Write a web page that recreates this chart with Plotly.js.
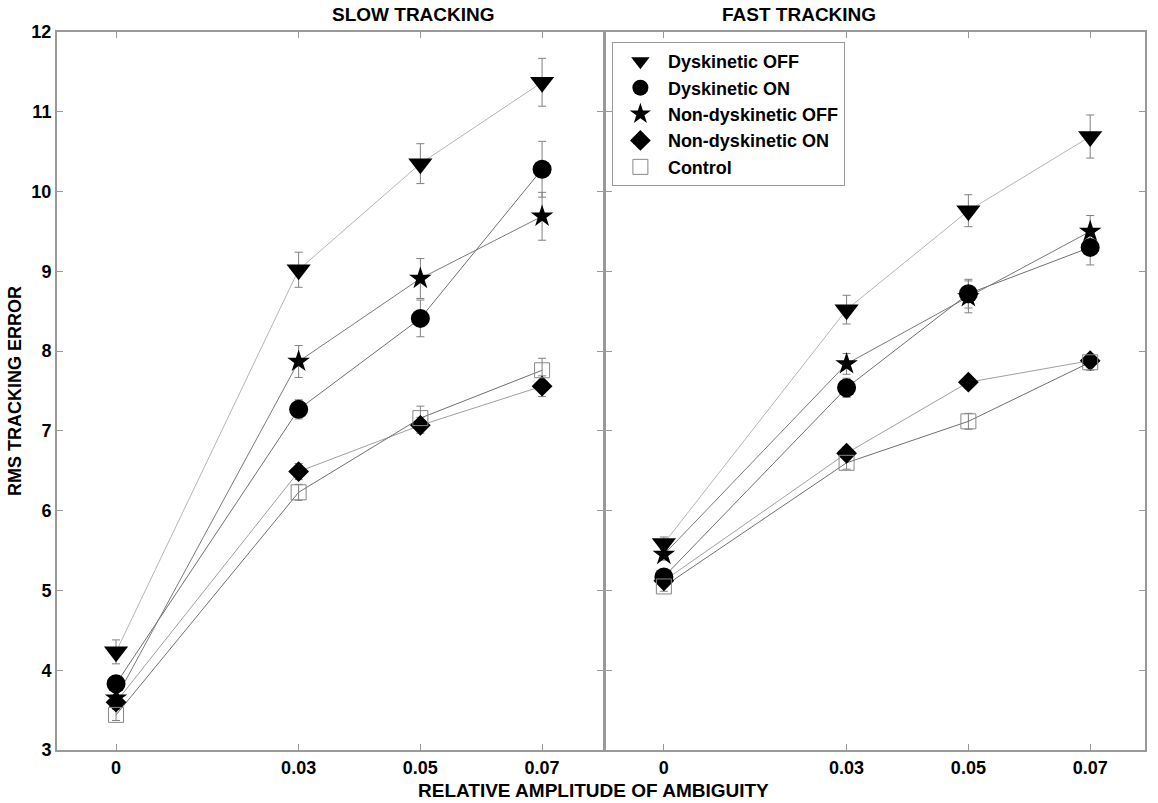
<!DOCTYPE html>
<html>
<head>
<meta charset="utf-8">
<script src="https://cdn.plot.ly/plotly-3.0.1.min.js"></script>
<style>
  body { margin: 0; background: white; }
  #chart { width: 1158px; height: 803px; }
</style>
</head>
<body>
<div id="chart"></div>
<script>
var ambiguity = [0, 0.03, 0.05, 0.07];
var groups = ['Dyskinetic OFF', 'Dyskinetic ON', 'Non-dyskinetic OFF', 'Non-dyskinetic ON', 'Control'];

// slow tracking: mean and error
var slowDyskOff = [4.23, 9.02, 10.35, 11.37];
var slowDyskOffErr = [0.15, 0.22, 0.25, 0.3];
var slowDyskOn = [3.83, 7.27, 8.41, 10.28];
var slowDyskOnErr = [0.1, 0.12, 0.23, 0.35];
var slowNonOff = [3.65, 7.87, 8.91, 9.69];
var slowNonOffErr = [0.08, 0.2, 0.25, 0.3];
var slowNonOn = [3.6, 6.49, 7.07, 7.56];
var slowNonOnErr = [0.08, 0.1, 0.1, 0.13];
var slowControl = [3.44, 6.23, 7.16, 7.76];
var slowControlErr = [0.07, 0.1, 0.15, 0.15];

// fast tracking
var fastDyskOff = [5.59, 8.52, 9.76, 10.69];
var fastDyskOffErr = [0.08, 0.18, 0.2, 0.27];
var fastDyskOn = [5.17, 7.54, 8.72, 9.3];
var fastDyskOnErr = [0.07, 0.12, 0.18, 0.22];
var fastNonOff = [5.45, 7.84, 8.68, 9.5];
var fastNonOffErr = [0.07, 0.13, 0.2, 0.2];
var fastNonOn = [5.12, 6.72, 7.61, 7.88];
var fastNonOnErr = [0.06, 0.08, 0.07, 0.08];
var fastControl = [5.05, 6.6, 7.12, 7.86];
var fastControlErr = [0.06, 0.08, 0.1, 0.1];

var slow = [slowDyskOff, slowDyskOn, slowNonOff, slowNonOn, slowControl];
var slowErr = [slowDyskOffErr, slowDyskOnErr, slowNonOffErr, slowNonOnErr, slowControlErr];
var fast = [fastDyskOff, fastDyskOn, fastNonOff, fastNonOn, fastControl];
var fastErr = [fastDyskOffErr, fastDyskOnErr, fastNonOffErr, fastNonOnErr, fastControlErr];

var symbols = ['triangle-down', 'circle', 'star', 'diamond', 'square-open'];
var sizes = [21, 19, 17, 16, 15];
var markColors = ['black', 'black', 'black', 'black', '#888'];
var lineColors = ['#b5b5b5', '#707070', '#7a7a7a', '#a0a0a0', '#707070'];

var font = 'Liberation Sans, Arial, sans-serif';
var data = [];

function addPanel(vals, errs, xa, ya, legend) {
  // lines + error bars first, markers on top
  for (var i = 0; i < vals.length; i++) {
    data.push({
      x: ambiguity, y: vals[i], xaxis: xa, yaxis: ya,
      type: 'scatter', mode: 'lines', showlegend: false, hoverinfo: 'skip',
      line: {color: lineColors[i], width: 1},
      error_y: {type: 'data', array: errs[i], visible: true, color: '#808080', thickness: 1, width: 4}
    });
  }
  for (var i = 0; i < vals.length; i++) {
    data.push({
      x: ambiguity, y: vals[i], xaxis: xa, yaxis: ya, name: groups[i],
      type: 'scatter', mode: 'markers', showlegend: legend,
      marker: {symbol: symbols[i], size: sizes[i], color: markColors[i],
               line: {color: markColors[i], width: i == 4 ? 1 : 0}}
    });
  }
}

addPanel(slow, slowErr, 'x', 'y', false);
addPanel(fast, fastErr, 'x2', 'y2', true);

var axisCommon = {
  showgrid: false, zeroline: false,
  showline: true, linecolor: '#999', linewidth: 2,
  mirror: 'ticks', ticks: 'inside', ticklen: 6, tickcolor: '#999',
  tickfont: {family: font, size: 18, color: 'black', weight: 'bold'}
};

var layout = {
  width: 1158, height: 803,
  margin: {l: 57, r: 13, t: 32, b: 53},
  paper_bgcolor: 'white', plot_bgcolor: 'white',
  font: {family: font, color: 'black'},
  xaxis: Object.assign({}, axisCommon, {
    domain: [0, 0.5018], range: [-0.0097, 0.08],
    tickvals: ambiguity, ticktext: ['0', '0.03', '0.05', '0.07']
  }),
  xaxis2: Object.assign({}, axisCommon, {
    domain: [0.5046, 1], range: [-0.0095, 0.079], anchor: 'y2',
    tickvals: ambiguity, ticktext: ['0', '0.03', '0.05', '0.07']
  }),
  yaxis: Object.assign({}, axisCommon, {
    range: [3, 12], dtick: 1, anchor: 'x'
  }),
  yaxis2: Object.assign({}, axisCommon, {
    range: [3, 12], dtick: 1, anchor: 'x2', showticklabels: false
  }),
  showlegend: true,
  legend: {
    x: 0.51, y: 0.986, xanchor: 'left', yanchor: 'top',
    bordercolor: '#999', borderwidth: 1, bgcolor: 'white',
    font: {family: font, size: 18, color: 'black', weight: 'bold'},
    itemwidth: 45, tracegroupgap: 0
  },
  annotations: [
    {text: 'SLOW TRACKING', xref: 'paper', yref: 'paper', x: 0.251, y: 1, yanchor: 'middle', yshift: 18,
     showarrow: false, font: {family: font, size: 19, weight: 'bold'}},
    {text: 'FAST TRACKING', xref: 'paper', yref: 'paper', x: 0.755, y: 1, yanchor: 'middle', yshift: 18,
     showarrow: false, font: {family: font, size: 19, weight: 'bold'}},
    {text: 'RELATIVE AMPLITUDE OF AMBIGUITY', xref: 'paper', yref: 'paper', x: 0.493, y: 0,
     yanchor: 'middle', yshift: -40, showarrow: false, font: {family: font, size: 19, weight: 'bold'}},
    {text: 'RMS TRACKING ERROR', xref: 'paper', yref: 'paper', x: 0, xanchor: 'center', xshift: -42, y: 0.5,
     textangle: -90, showarrow: false, font: {family: font, size: 18, weight: 'bold'}}
  ]
};

Plotly.newPlot('chart', data, layout, {displayModeBar: false});
</script>
</body>
</html>
